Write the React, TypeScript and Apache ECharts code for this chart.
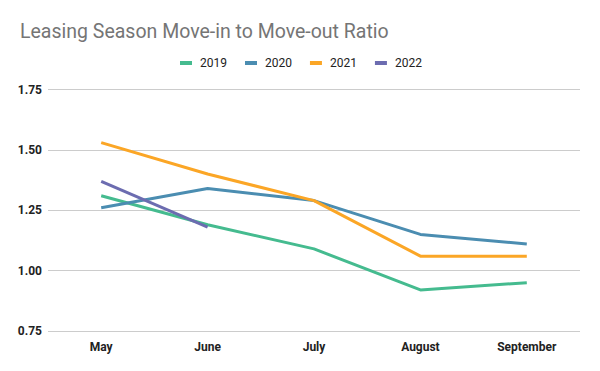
import React, { useEffect, useRef } from "react";
import * as echarts from "echarts";

const categories = ["May", "June", "July", "August", "September"];
const s2019 = [1.31, 1.19, 1.09, 0.92, 0.95];
const s2020 = [1.26, 1.34, 1.29, 1.15, 1.11];
const s2021 = [1.53, 1.40, 1.29, 1.06, 1.06];
const s2022 = [1.37, 1.18, null, null, null];
const seriesNames = ["2019", "2020", "2021", "2022"];
const colors = ["#45BB8F", "#4B8DB1", "#FBA626", "#6C6CB0"];

export default function App() {
  const ref = useRef<HTMLDivElement>(null);
  useEffect(() => {
    const chart = echarts.init(ref.current!, undefined, { renderer: "svg" });
    const data = [s2019, s2020, s2021, s2022];
    chart.setOption({
      animation: false,
      color: colors,
      title: {
        text: "Leasing Season Move-in to Move-out Ratio",
        left: 15,
        top: 16,
        textStyle: { fontFamily: "Roboto", fontSize: 19.5, fontWeight: "normal", color: "#757575" },
      },
      legend: {
        top: 52,
        left: 175,
        itemWidth: 12,
        itemHeight: 4,
        itemGap: 18,
        icon: "rect",
        textStyle: { fontFamily: "Roboto", fontSize: 12, color: "#222", padding: [0, 0, 0, 3] },
        data: seriesNames,
      },
      grid: { left: 48, right: 20, top: 89.5, bottom: 40 },
      xAxis: {
        type: "category",
        data: categories,
        boundaryGap: true,
        axisLine: { show: false },
        axisTick: { show: false },
        axisLabel: { fontFamily: "Roboto", fontSize: 12, fontWeight: "bold", color: "#222", margin: 10 },
      },
      yAxis: {
        type: "value",
        min: 0.75,
        max: 1.75,
        interval: 0.25,
        axisLine: { show: false },
        axisTick: { show: false },
        splitLine: { lineStyle: { color: "#cccccc", width: 1 } },
        axisLabel: {
          fontFamily: "Roboto",
          fontSize: 12,
          fontWeight: "bold",
          color: "#222",
          margin: 6,
          formatter: (v: number) => v.toFixed(2),
        },
      },
      series: seriesNames.map((name, i) => ({
        name,
        type: "line",
        data: data[i],
        showSymbol: false,
        symbol: "none",
        lineStyle: { width: 3, color: colors[i] },
        itemStyle: { color: colors[i] },
      })),
    });
    return () => chart.dispose();
  }, []);
  return <div ref={ref} style={{ width: 600, height: 371, position: "absolute", left: 0, top: 0 }} />;
}
